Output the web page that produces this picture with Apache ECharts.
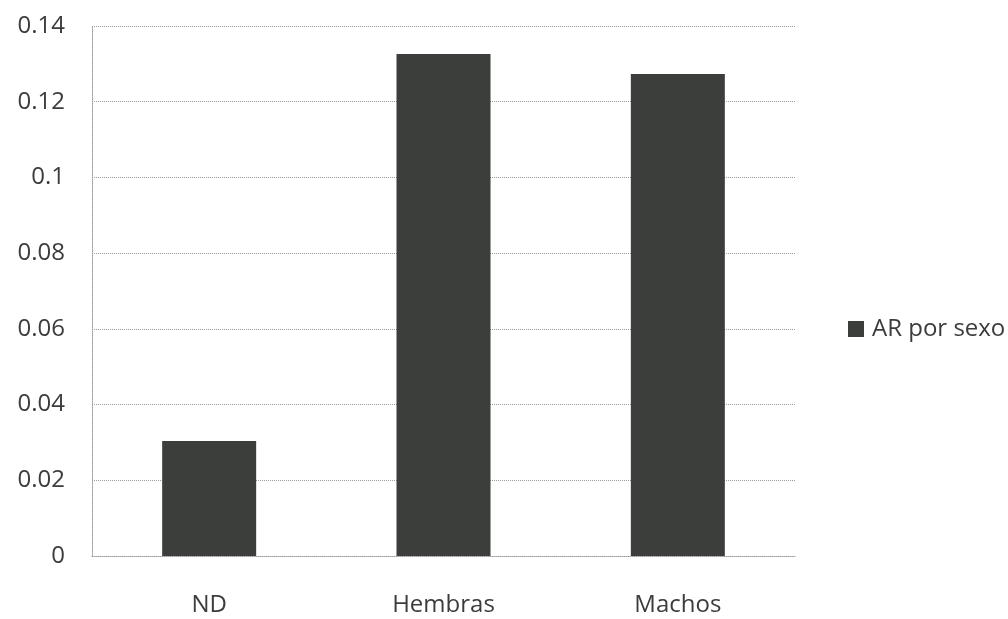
<!DOCTYPE html>
<html>
<head>
<meta charset="utf-8">
<script src="https://cdn.jsdelivr.net/npm/echarts@6/dist/echarts.min.js"></script>
<style>
  html, body { margin: 0; padding: 0; background: #ffffff; }
  #chart { width: 1008px; height: 619px; }
</style>
</head>
<body>
<div id="chart"></div>
<script>
// Categories and values of the AR-by-sex series
const categories = ['ND', 'Hembras', 'Machos'];
const arPorSexo = [0.0304, 0.1326, 0.1273];
const seriesName = 'AR por sexo';
const yTickLabels = ['0', '0.02', '0.04', '0.06', '0.08', '0.1', '0.12', '0.14'];
const yStep = 0.02;

const font = '"Open Sans", "DejaVu Sans", sans-serif';
const textColor = '#3c3c3c';

const chart = echarts.init(document.getElementById('chart'), null, { renderer: 'canvas' });

chart.setOption({
  backgroundColor: '#ffffff',
  animation: false,
  grid: { left: 92, right: 213, top: 26, bottom: 63, containLabel: false },
  legend: {
    data: [seriesName],
    left: 843,
    top: 312,
    icon: 'rect',
    itemWidth: 16,
    itemHeight: 16,
    textStyle: { fontFamily: font, fontSize: 24, color: textColor, padding: [0, 0, 0, 3] }
  },
  xAxis: {
    type: 'category',
    data: categories,
    axisLine: { show: true, lineStyle: { color: '#9a9a9a', type: 'dotted', width: 1 } },
    axisTick: { show: false },
    axisLabel: { fontFamily: font, fontSize: 24, color: textColor, margin: 37 }
  },
  yAxis: {
    type: 'value',
    min: 0,
    max: 0.14,
    interval: yStep,
    axisLine: { show: true, lineStyle: { color: '#9a9a9a', type: 'dotted', width: 1 } },
    axisTick: { show: false },
    splitLine: { show: true, lineStyle: { color: '#9a9a9a', type: 'dotted', width: 1 } },
    axisLabel: {
      fontFamily: font, fontSize: 24, color: textColor, margin: 27,
      formatter: (v) => yTickLabels[Math.round(v / yStep)]
    }
  },
  series: [{
    name: seriesName,
    type: 'bar',
    data: arPorSexo,
    barWidth: 94,
    itemStyle: { color: '#3b3e3b' }
  }]
});
</script>
</body>
</html>
